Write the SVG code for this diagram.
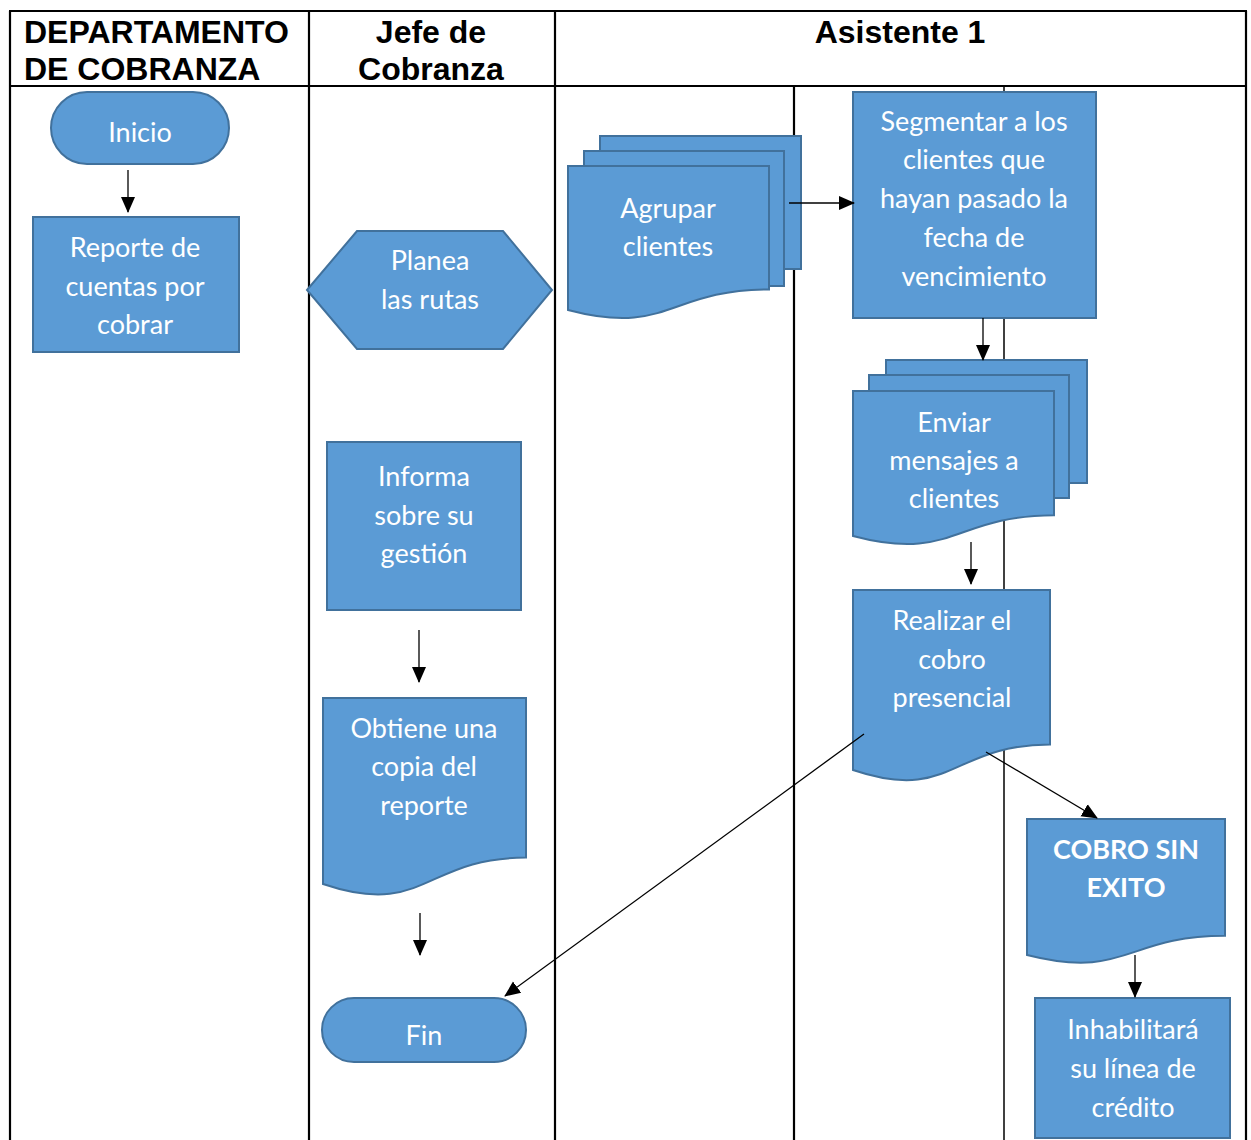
<svg xmlns="http://www.w3.org/2000/svg" width="1251" height="1140" viewBox="0 0 1251 1140">
<style>
.lane{stroke:#000;stroke-width:2.2;fill:none}
.thin{stroke:#000;stroke-width:1.5;fill:none}
.hd{font-family:"Liberation Sans",Arial,sans-serif;font-weight:bold;font-size:32px;fill:#000}
.sh{fill:#5B9BD5;stroke:#41719C;stroke-width:2}
.tx{font-family:Lato,"Open Sans",sans-serif;font-size:27px;fill:#fff;text-anchor:middle}
.bd{font-weight:bold}
.cn{stroke:#000;stroke-width:1.3;fill:none}
</style>
<defs>
<marker id="ah" markerUnits="userSpaceOnUse" markerWidth="16" markerHeight="16" viewBox="0 0 16 16" refX="15" refY="8" orient="auto">
<path d="M0,1 L16,8 L0,15 Z" fill="#000"/>
</marker>
</defs>
<rect width="1251" height="1140" fill="#fff"/>
<g id="table">
<line class="lane" x1="9" y1="11" x2="1247" y2="11"/>
<line class="lane" x1="9" y1="86" x2="1247" y2="86"/>
<line class="lane" x1="10" y1="11" x2="10" y2="1140"/>
<line class="lane" x1="1246" y1="11" x2="1246" y2="1140"/>
<line class="lane" x1="309" y1="11" x2="309" y2="1140"/>
<line class="lane" x1="555" y1="11" x2="555" y2="1140"/>
<line class="lane" x1="794" y1="86" x2="794" y2="1140"/>
<line class="thin" x1="1004" y1="86" x2="1004" y2="1140"/>
<text class="hd" x="24" y="43">DEPARTAMENTO</text>
<text class="hd" x="24" y="80">DE COBRANZA</text>
<text class="hd" x="431" y="43" text-anchor="middle">Jefe de</text>
<text class="hd" x="431" y="80" text-anchor="middle">Cobranza</text>
<text class="hd" x="900" y="43" text-anchor="middle">Asistente 1</text>
</g>
<g id="inicio">
<rect class="sh" x="51" y="92" width="178" height="72" rx="36"/>
<text class="tx" x="140" y="142">Inicio</text>
</g>
<g id="reporte">
<rect class="sh" x="33" y="217" width="206" height="135"/>
<text class="tx" x="135" y="257">Reporte de</text>
<text class="tx" x="135" y="296">cuentas por</text>
<text class="tx" x="135" y="334">cobrar</text>
</g>
<g id="planea">
<polygon class="sh" points="307,290 357,231 503,231 552,290 503,349 357,349"/>
<text class="tx" x="430" y="270">Planea</text>
<text class="tx" x="430" y="309">las rutas</text>
</g>
<g id="informa">
<rect class="sh" x="327" y="442" width="194" height="168"/>
<text class="tx" x="424" y="486">Informa</text>
<text class="tx" x="424" y="525">sobre su</text>
<text class="tx" x="424" y="563">gestión</text>
</g>
<g id="obtiene">
<path class="sh" d="M323,698 H526 V857.6 C424.5,857.6 424.5,918.3 323,884 Z"/>
<text class="tx" x="424" y="738">Obtiene una</text>
<text class="tx" x="424" y="776">copia del</text>
<text class="tx" x="424" y="815">reporte</text>
</g>
<g id="fin">
<rect class="sh" x="322" y="998" width="204" height="64" rx="32"/>
<text class="tx" x="424" y="1045">Fin</text>
</g>
<g id="agrupar">
<rect class="sh" x="600" y="136" width="201" height="133"/>
<rect class="sh" x="584" y="151" width="200" height="135"/>
<path class="sh" d="M568,166 H769 V289.5 C668.5,289.5 668.5,336.5 568,310 Z"/>
<text class="tx" x="668" y="218">Agrupar</text>
<text class="tx" x="668" y="256">clientes</text>
</g>
<g id="segmentar">
<rect class="sh" x="853" y="92" width="243" height="226"/>
<text class="tx" x="974" y="131">Segmentar a los</text>
<text class="tx" x="974" y="169">clientes que</text>
<text class="tx" x="974" y="208">hayan pasado la</text>
<text class="tx" x="974" y="247">fecha de</text>
<text class="tx" x="974" y="286">vencimiento</text>
</g>
<g id="enviar">
<rect class="sh" x="886" y="360" width="201" height="123"/>
<rect class="sh" x="869" y="375" width="200" height="123"/>
<path class="sh" d="M853,391 H1054 V515.3 C953.5,515.3 953.5,562.6 853,536 Z"/>
<text class="tx" x="954" y="432">Enviar</text>
<text class="tx" x="954" y="470">mensajes a</text>
<text class="tx" x="954" y="508">clientes</text>
</g>
<g id="realizar">
<path class="sh" d="M853,590 H1050 V744.5 C951.5,744.5 951.5,803.3 853,770 Z"/>
<text class="tx" x="952" y="630">Realizar el</text>
<text class="tx" x="952" y="669">cobro</text>
<text class="tx" x="952" y="707">presencial</text>
</g>
<g id="cobro">
<path class="sh" d="M1027,819 H1225 V935.8 C1126,935.8 1126,980.2 1027,955 Z"/>
<text class="tx bd" x="1126" y="859">COBRO SIN</text>
<text class="tx bd" x="1126" y="897">EXITO</text>
</g>
<g id="inhabilitara">
<rect class="sh" x="1035" y="998" width="195" height="140"/>
<text class="tx" x="1133" y="1039">Inhabilitará</text>
<text class="tx" x="1133" y="1078">su línea de</text>
<text class="tx" x="1133" y="1117">crédito</text>
</g>
<g id="connectors">
<line class="cn" x1="128" y1="170" x2="128" y2="212" marker-end="url(#ah)"/>
<line class="cn" x1="789" y1="203" x2="854" y2="203" marker-end="url(#ah)"/>
<line class="cn" x1="983" y1="318" x2="983" y2="360" marker-end="url(#ah)"/>
<line class="cn" x1="971" y1="542" x2="971" y2="584" marker-end="url(#ah)"/>
<line class="cn" x1="419" y1="630" x2="419" y2="682" marker-end="url(#ah)"/>
<line class="cn" x1="420" y1="913" x2="420" y2="955" marker-end="url(#ah)"/>
<line class="cn" x1="864" y1="734" x2="505" y2="996" marker-end="url(#ah)"/>
<line class="cn" x1="986" y1="752" x2="1097" y2="818" marker-end="url(#ah)"/>
<line class="cn" x1="1135" y1="955" x2="1135" y2="997" marker-end="url(#ah)"/>
</g>
</svg>
